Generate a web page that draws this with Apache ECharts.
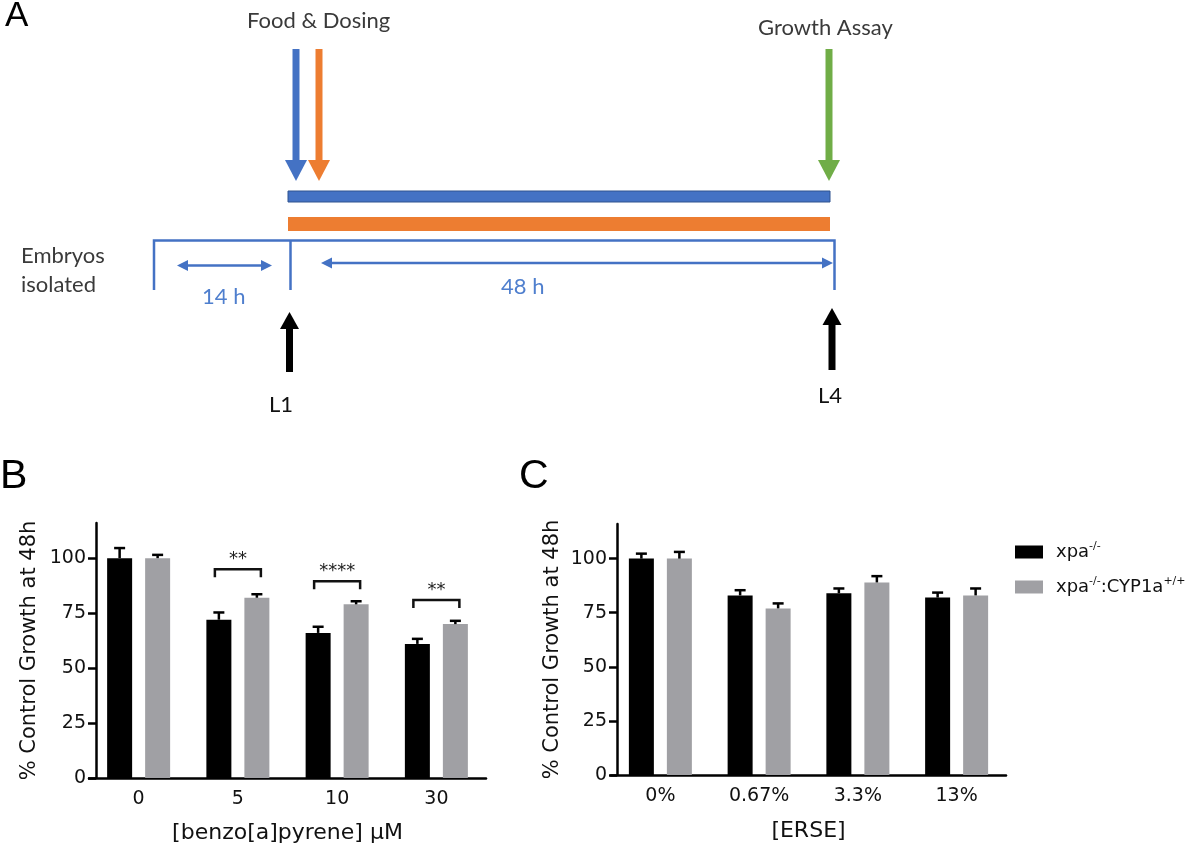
<!DOCTYPE html>
<html>
<head>
<meta charset="utf-8">
<title>Growth assay</title>
<style>
  html, body { margin: 0; padding: 0; background: #fff; }
  #main { width: 1200px; height: 847px; }
</style>
<script src="https://cdn.jsdelivr.net/npm/echarts@6/dist/echarts.min.js"></script>
</head>
<body>
<div id="main"></div>
<script>
// panel B: benzo[a]pyrene dose response
var bapDoses = ['0', '5', '10', '30'];
var bapXpa = [100, 72, 66, 61];
var bapXpaErr = [4.6, 3.3, 2.8, 2.3];
var bapCyp = [100, 82, 79, 70];
var bapCypErr = [1.5, 1.6, 1.4, 1.5];
var bapSigTop = [null, 95, 89.5, 81];
var bapSigText = ['', '**', '****', '**'];

// panel C: ERSE dose response
var erseDoses = ['0%', '0.67%', '3.3%', '13%'];
var erseXpa = [100, 83, 84, 82];
var erseXpaErr = [2.3, 2.4, 2.2, 2.3];
var erseCyp = [100, 77, 89, 83];
var erseCypErr = [3.1, 2.3, 2.9, 3.2];

var yTicks = [0, 25, 50, 75, 100];
var seriesNames = ['xpa-/-', 'xpa-/-:CYP1a+/+'];

// panel A: timeline labels
var eventLabels = ['Food & Dosing', 'Growth Assay'];
var stageLabels = ['L1', 'L4'];
var durationLabels = ['14 h', '48 h'];

var FONT = 'DejaVu Sans';
var DIAG_FONT = 'Lato';
var BLUE = '#4472C4', ORANGE = '#ED7D31', GREEN = '#70AD47';
var GRAY = '#a0a0a4';
var barW = 25, barGapPx = 13;
var barOffset = (barW + barGapPx) / 2;
var capHalf = 5.5;

var chart = echarts.init(document.getElementById('main'));

// ---- panel A drawn as a schematic ----
function downArrow(cx, color) {
  return [
    { type: 'rect', shape: { x: cx - 3.5, y: 49, width: 7, height: 112 }, style: { fill: color } },
    { type: 'polygon', shape: { points: [[cx - 11, 160], [cx + 11, 160], [cx, 181]] }, style: { fill: color } }
  ];
}
function upArrow(cx, yTop, yBottom) {
  return [
    { type: 'rect', shape: { x: cx - 3.5, y: yTop + 15, width: 7, height: yBottom - yTop - 15 }, style: { fill: '#000' } },
    { type: 'polygon', shape: { points: [[cx - 9.5, yTop + 17], [cx + 9.5, yTop + 17], [cx, yTop]] }, style: { fill: '#000' } }
  ];
}
function hArrow(x1, x2, y) {
  return [
    { type: 'line', shape: { x1: x1 + 8, y1: y, x2: x2 - 8, y2: y }, style: { stroke: BLUE, lineWidth: 2.5 } },
    { type: 'polygon', shape: { points: [[x1, y], [x1 + 11, y - 5.5], [x1 + 11, y + 5.5]] }, style: { fill: BLUE } },
    { type: 'polygon', shape: { points: [[x2, y], [x2 - 11, y - 5.5], [x2 - 11, y + 5.5]] }, style: { fill: BLUE } }
  ];
}
function label(text, x, y, color, size) {
  return {
    type: 'text',
    style: { text: text, x: x, y: y, fill: color || '#3a3a3a', font: (size || 22) + 'px ' + DIAG_FONT, verticalAlign: 'top' }
  };
}

var diagram = [].concat(
  downArrow(296, BLUE),
  downArrow(319, ORANGE),
  downArrow(829, GREEN),
  [
    { type: 'rect', shape: { x: 288, y: 191, width: 542, height: 11 }, style: { fill: BLUE, stroke: '#2F528F', lineWidth: 1 } },
    { type: 'rect', shape: { x: 288, y: 217, width: 542, height: 14 }, style: { fill: ORANGE } },
    { type: 'polyline', shape: { points: [[154, 290], [154, 240.5], [834.5, 240.5], [834.5, 290]] }, style: { stroke: BLUE, lineWidth: 2.5, fill: null } },
    { type: 'line', shape: { x1: 290.5, y1: 240.5, x2: 290.5, y2: 290 }, style: { stroke: BLUE, lineWidth: 2.5 } }
  ],
  hArrow(177, 272, 265.5),
  hArrow(321, 833, 263),
  upArrow(289.5, 312, 372),
  upArrow(832, 308, 370),
  [
    label(eventLabels[0], 247, 10),
    label(eventLabels[1], 758, 17),
    label('Embryos', 21, 245),
    label('isolated', 21, 274),
    label(durationLabels[0], 202, 286, '#4f7fce'),
    label(durationLabels[1], 501, 276, '#4f7fce'),
    label(stageLabels[0], 269, 394, '#111'),
    label(stageLabels[1], 818, 385, '#111')
  ]
);

// ---- panels B and C ----
function xAxisCfg(gridIndex, cats, name, gap) {
  return {
    type: 'category', gridIndex: gridIndex, data: cats,
    name: name, nameLocation: 'middle', nameGap: gap,
    nameTextStyle: { fontFamily: FONT, fontSize: 22, color: '#111' },
    axisLine: { lineStyle: { color: '#000', width: 2.5 } },
    axisTick: { alignWithLabel: true, length: 7, lineStyle: { color: '#000', width: 2.5 } },
    axisLabel: { fontFamily: FONT, fontSize: 19, color: '#111', margin: 12 }
  };
}
function yAxisCfg(gridIndex, offset, gap) {
  return {
    type: 'value', gridIndex: gridIndex, min: 0, max: 116, offset: offset,
    name: '% Control Growth at 48h', nameLocation: 'middle', nameGap: gap,
    nameTextStyle: { fontFamily: FONT, fontSize: 21, color: '#111' },
    axisLine: { show: true, lineStyle: { color: '#000', width: 2.5 } },
    axisTick: { show: true, length: 8, customValues: yTicks, lineStyle: { color: '#000', width: 2.5 } },
    axisLabel: { customValues: yTicks, fontFamily: FONT, fontSize: 19, color: '#111', margin: 10 },
    splitLine: { show: false }
  };
}
function barSeries(name, idx, data, color) {
  return {
    type: 'bar', name: name, xAxisIndex: idx, yAxisIndex: idx, data: data,
    barWidth: barW, barGap: (barGapPx / barW * 100) + '%',
    itemStyle: { color: color }, silent: true
  };
}
function errorSeries(idx, vals, errs, side) {
  return {
    type: 'custom', xAxisIndex: idx, yAxisIndex: idx, silent: true, z: 3,
    data: vals.map(function (v, i) { return [i, v, v + errs[i]]; }),
    renderItem: function (params, api) {
      var lo = api.coord([api.value(0), api.value(1)]);
      var hi = api.coord([api.value(0), api.value(2)]);
      var x = lo[0] + side * barOffset;
      var st = { stroke: '#000', lineWidth: 2.5 };
      return {
        type: 'group', children: [
          { type: 'line', shape: { x1: x, y1: lo[1], x2: x, y2: hi[1] }, style: st },
          { type: 'line', shape: { x1: x - capHalf, y1: hi[1], x2: x + capHalf, y2: hi[1] }, style: st }
        ]
      };
    }
  };
}
var sigData = [];
bapSigTop.forEach(function (v, i) { if (v != null) sigData.push([i, v, bapSigText[i]]); });

var option = {
  animation: false,
  backgroundColor: '#fff',
  title: [
    { text: 'A', left: 5, top: -1, padding: 0, textStyle: { fontFamily: 'Liberation Sans', fontSize: 35, fontWeight: 'normal', color: '#000' } },
    { text: 'B', left: 0, top: 456, padding: 0, textStyle: { fontFamily: 'Liberation Sans', fontSize: 41, fontWeight: 'normal', color: '#000' } },
    { text: 'C', left: 519, top: 456, padding: 0, textStyle: { fontFamily: 'Liberation Sans', fontSize: 41, fontWeight: 'normal', color: '#000' } }
  ],
  legend: {
    orient: 'vertical', left: 1010, top: 536, itemWidth: 28, itemHeight: 13, itemGap: 15,
    icon: 'rect', data: seriesNames, selectedMode: false,
    formatter: function (n) {
      return n === seriesNames[0] ? '{b|xpa}{s|-/-}' : '{b|xpa}{s|-/-}{b|:CYP1a}{s|+/+}';
    },
    textStyle: {
      padding: [0, 0, 0, 8],
      rich: {
        b: { fontFamily: FONT, fontSize: 18, color: '#111', lineHeight: 22 },
        s: { fontFamily: FONT, fontSize: 11, color: '#111', verticalAlign: 'top', lineHeight: 22 }
      }
    }
  },
  grid: [
    { left: 89, top: 523, width: 397, height: 255 },
    { left: 611, top: 524, width: 395, height: 251 }
  ],
  xAxis: [
    xAxisCfg(0, bapDoses, '[benzo[a]pyrene] μM', 44),
    xAxisCfg(1, erseDoses, '[ERSE]', 45)
  ],
  yAxis: [
    yAxisCfg(0, -7, 56),
    yAxisCfg(1, -6, 54)
  ],
  series: [
    barSeries(seriesNames[0], 0, bapXpa, '#000'),
    barSeries(seriesNames[1], 0, bapCyp, GRAY),
    barSeries(seriesNames[0], 1, erseXpa, '#000'),
    barSeries(seriesNames[1], 1, erseCyp, GRAY),
    errorSeries(0, bapXpa, bapXpaErr, -1),
    errorSeries(0, bapCyp, bapCypErr, 1),
    errorSeries(1, erseXpa, erseXpaErr, -1),
    errorSeries(1, erseCyp, erseCypErr, 1),
    {
      type: 'custom', xAxisIndex: 0, yAxisIndex: 0, silent: true, z: 4,
      data: sigData,
      renderItem: function (params, api) {
        var p = api.coord([api.value(0), api.value(1)]);
        var st = { stroke: '#111', lineWidth: 2.5, fill: null };
        return {
          type: 'group', children: [
            { type: 'polyline', shape: { points: [[p[0] - 23, p[1] + 8], [p[0] - 23, p[1]], [p[0] + 23, p[1]], [p[0] + 23, p[1] + 8]] }, style: st },
            { type: 'text', style: { text: sigData[params.dataIndex][2], x: p[0], y: p[1] - 10, align: 'center', verticalAlign: 'middle', font: '18px ' + FONT, fill: '#222' } }
          ]
        };
      }
    }
  ],
  graphic: diagram
};
chart.setOption(option);
</script>
</body>
</html>
